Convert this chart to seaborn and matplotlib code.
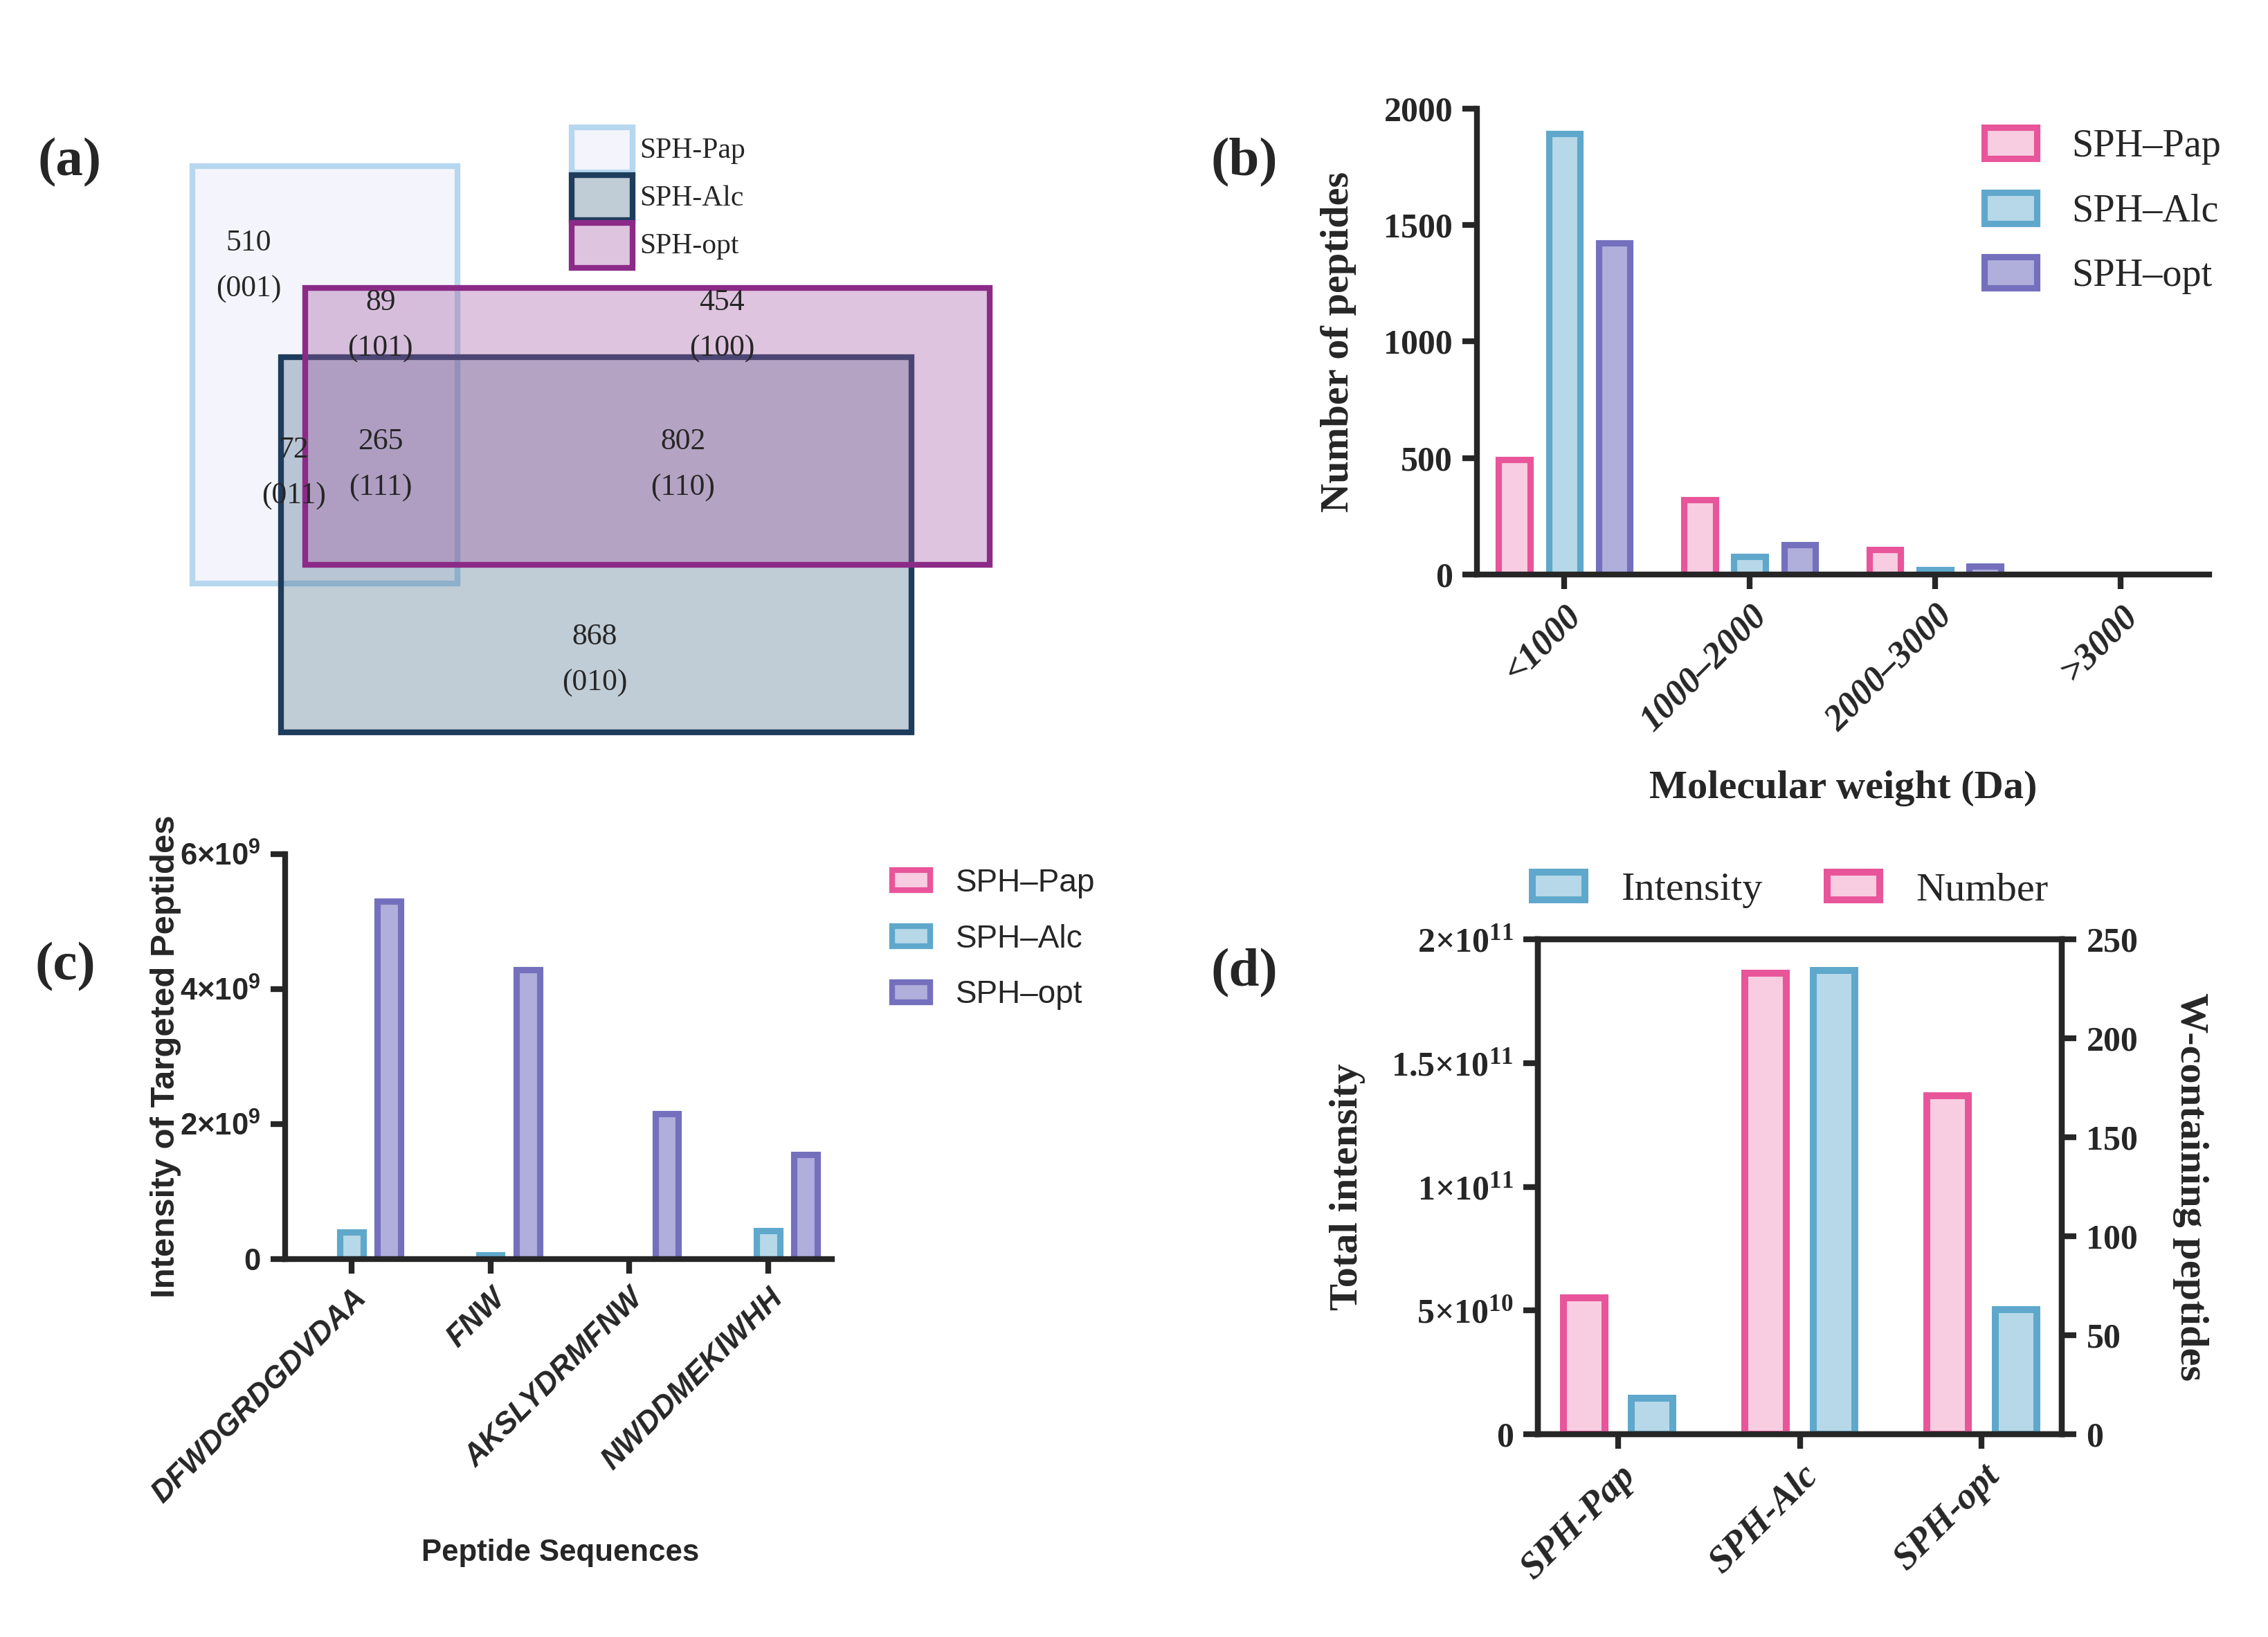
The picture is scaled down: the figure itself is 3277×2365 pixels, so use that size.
import numpy as np
import pandas as pd
import matplotlib
matplotlib.use("Agg")
import matplotlib.pyplot as plt
import seaborn as sns
from matplotlib.patches import Rectangle, Patch

# ---- data ----
samples = ["SPH–Pap", "SPH–Alc", "SPH–opt"]
mw_bins = ["<1000", "1000–2000", "2000–3000", ">3000"]
mw_pap = [493, 320, 108, 0]
mw_alc = [1892, 79, 21, 0]
mw_opt = [1424, 127, 37, 0]

peptides = ["DFWDGRDGDVDAA", "FNW", "AKSLYDRMFNW", "NWDDMEKIWHH"]
pep_pap = [0, 0, 0, 0]
pep_alc = [0.40e9, 0.06e9, 0, 0.42e9]
pep_opt = [5.30e9, 4.29e9, 2.15e9, 1.55e9]

w_samples = ["SPH-Pap", "SPH-Alc", "SPH-opt"]
w_intensity = [1.45e10, 1.875e11, 5.04e10]
w_number = [69, 233, 171]

venn_sets = ["SPH-Pap", "SPH-Alc", "SPH-opt"]
venn_counts = [510, 89, 454, 72, 265, 802, 868]
venn_codes = ["(001)", "(101)", "(100)", "(011)", "(111)", "(110)", "(010)"]

# colours
fills = {"SPH–Pap": "#f8cde1", "SPH–Alc": "#b7d8e8", "SPH–opt": "#b0aedb"}
edges = {"SPH–Pap": "#e8559a", "SPH–Alc": "#5fa8cc", "SPH–opt": "#7470bd"}

SERIF = ["Liberation Serif", "DejaVu Serif"]
SANS = ["Liberation Sans", "DejaVu Sans"]

sns.set_style("ticks")
plt.rcParams["font.family"] = SERIF
plt.rcParams["axes.linewidth"] = 2
plt.rcParams["mathtext.fontset"] = "custom"
plt.rcParams["mathtext.rm"] = "Liberation Serif"
plt.rcParams["mathtext.bf"] = "Liberation Serif:bold"
plt.rcParams["mathtext.sf"] = "Liberation Sans:bold"

fig = plt.figure(figsize=(3278 / 300, 2365 / 300), dpi=300)
W, H = 1568.0, 1131.0


def box(l, t, r, b):
    return [l / W, 1 - b / H, (r - l) / W, (b - t) / H]


def style_bars(ax, ecs, lw=2.2):
    for cont, ec in zip(ax.containers, ecs):
        for bar in cont:
            bar.set_edgecolor(ec)
            bar.set_linewidth(lw)
            if bar.get_height() == 0:
                bar.set_visible(False)


def fmt_sci(v, cmd):
    if v == 0:
        return "0"
    e = int(np.floor(np.log10(v)))
    m = "%g" % (v / 10 ** e)
    return r"$\%s{%s{\times}10^{%d}}$" % (cmd, m, e)


# ---- (a) venn-style rectangles ----
ax_a = fig.add_axes(box(100, 60, 720, 530))
ax_a.set_xlim(100, 720)
ax_a.set_ylim(530, 60)
ax_a.axis("off")

rect_layout = {
    "SPH-Pap": ((133, 115, 316, 403), (0.957, 0.961, 0.988, 1.0), "#b6d7ee"),
    "SPH-Alc": ((194, 247, 630, 506), (0.19, 0.35, 0.48, 0.30), "#1e3d5c"),
    "SPH-opt": ((211, 199, 684, 390), (0.64, 0.34, 0.63, 0.35), "#8c2a88"),
}
for name in venn_sets:
    (x0, y0, x1, y1), fc, ec = rect_layout[name]
    ax_a.add_patch(Rectangle((x0, y0), x1 - x0, y1 - y0, facecolor=fc,
                             edgecolor=ec, linewidth=2.0))

text_pos = [(172, 168), (263, 209), (499, 209), (203, 311), (263, 305), (472, 305), (411, 440)]
for (x, y), n, c in zip(text_pos, venn_counts, venn_codes):
    ax_a.text(x, y, str(n), ha="center", va="center", fontsize=10.5)
    ax_a.text(x, y + 32, c, ha="center", va="center", fontsize=10.5)

for i, name in enumerate(venn_sets):
    _, fc, ec = rect_layout[name]
    y0 = 88 + i * 33
    ax_a.add_patch(Rectangle((395, y0), 42, 31, facecolor=fc, edgecolor=ec, linewidth=2.0))
    ax_a.text(442, y0 + 16, name, ha="left", va="center", fontsize=10)

# ---- (b) molecular weight distribution ----
df_b = pd.DataFrame({
    "bin": mw_bins * 3,
    "count": mw_pap + mw_alc + mw_opt,
    "sample": np.repeat(samples, len(mw_bins)),
})
ax_b = fig.add_axes(box(1021, 75, 1527, 397))
sns.barplot(data=df_b, x="bin", y="count", hue="sample", order=mw_bins,
            hue_order=samples, palette=fills, saturation=1, width=0.81,
            gap=0.37, errorbar=None, legend=False, ax=ax_b)
style_bars(ax_b, [edges[s] for s in samples])
ax_b.set_xlim(-0.47, 3.48)
ax_b.set_ylim(0, 2000)
ax_b.set_yticks([0, 500, 1000, 1500, 2000])
sns.despine(ax=ax_b)
ax_b.tick_params(width=2, length=5, labelsize=12)
for lab in ax_b.get_yticklabels():
    lab.set_fontweight("bold")
ax_b.set_xticks(range(len(mw_bins)))
ax_b.set_xticklabels(mw_bins, rotation=45, ha="right", rotation_mode="anchor",
                     fontweight="bold", fontstyle="italic", fontsize=12.5)
ax_b.set_xlabel("Molecular weight (Da)", fontsize=14, fontweight="bold")
ax_b.set_ylabel("Number of peptides", fontsize=14, fontweight="bold")
ax_b.xaxis.set_label_coords(0.5, -0.42)
ax_b.yaxis.set_label_coords(-0.165, 0.5)
h_b = [Patch(facecolor=fills[s], edgecolor=edges[s], linewidth=2.2, label=s) for s in samples]
ax_b.legend(handles=h_b, loc="upper left", bbox_to_anchor=(1347 / W, 1 - 64 / H),
            bbox_transform=fig.transFigure, frameon=False, fontsize=13.5,
            handlelength=1.35, handleheight=0.85, labelspacing=0.7, handletextpad=0.9)

# ---- (c) targeted peptides ----
df_c = pd.DataFrame({
    "pep": peptides * 3,
    "val": pep_pap + pep_alc + pep_opt,
    "sample": np.repeat(samples, len(peptides)),
})
ax_c = fig.add_axes(box(197, 590, 575, 870))
sns.barplot(data=df_c, x="pep", y="val", hue="sample", order=peptides,
            hue_order=samples, palette=fills, saturation=1, width=0.81,
            gap=0.38, errorbar=None, legend=False, ax=ax_c)
style_bars(ax_c, [edges[s] for s in samples])
ax_c.set_xlim(-0.48, 3.46)
ax_c.set_ylim(0, 6e9)
c_ticks = [0, 2e9, 4e9, 6e9]
ax_c.set_yticks(c_ticks)
ax_c.set_yticklabels([fmt_sci(v, "mathsf") for v in c_ticks], family=SANS,
                     fontweight="bold", fontsize=10.5)
sns.despine(ax=ax_c)
ax_c.tick_params(width=2, length=5)
ax_c.set_xticks(range(len(peptides)))
ax_c.set_xticklabels(peptides, rotation=45, ha="right", rotation_mode="anchor",
                     family=SANS, fontweight="bold", fontstyle="italic", fontsize=10.5)
ax_c.set_xlabel("Peptide Sequences", family=SANS, fontweight="bold", fontsize=10.5)
ax_c.set_ylabel("Intensity of Targeted Peptides", family=SANS, fontweight="bold", fontsize=11.8)
ax_c.xaxis.set_label_coords(0.503, -0.69)
ax_c.yaxis.set_label_coords(-0.19, 0.5)
h_c = [Patch(facecolor=fills[s], edgecolor=edges[s], linewidth=2.0, label=s) for s in samples]
ax_c.legend(handles=h_c, loc="upper left", bbox_to_anchor=(597 / W, 1 - 580 / H),
            bbox_transform=fig.transFigure, frameon=False, prop={"family": SANS, "size": 11},
            handlelength=1.2, handleheight=0.6, labelspacing=0.8, handletextpad=0.8)

# ---- (d) W-containing peptides ----
metrics = ["Number", "Intensity"]
df_d = pd.DataFrame({
    "sample": w_samples * 2,
    "value": list(w_number) + list(w_intensity),
    "metric": np.repeat(metrics, len(w_samples)),
})
d_fill = {"Number": fills["SPH–Pap"], "Intensity": fills["SPH–Alc"]}
d_edge = {"Number": edges["SPH–Pap"], "Intensity": edges["SPH–Alc"]}

ax_d = fig.add_axes(box(1063, 649, 1425, 991))
ax_d2 = ax_d.twinx()
sns.barplot(data=df_d[df_d.metric == "Intensity"], x="sample", y="value", hue="metric",
            order=w_samples, hue_order=metrics, palette=d_fill, saturation=1, dodge=True,
            width=0.75, gap=0.39, errorbar=None, legend=False, ax=ax_d)
sns.barplot(data=df_d[df_d.metric == "Number"], x="sample", y="value", hue="metric",
            order=w_samples, hue_order=metrics, palette=d_fill, saturation=1, dodge=True,
            width=0.75, gap=0.39, errorbar=None, legend=False, ax=ax_d2)
for a, m in ((ax_d, "Intensity"), (ax_d2, "Number")):
    for cont in a.containers:
        for bar in cont:
            bar.set_linewidth(2.4)
            bar.set_edgecolor(d_edge[m])
ax_d.set_xlim(-0.44, 2.44)
ax_d2.set_xlim(-0.44, 2.44)
ax_d.set_ylim(0, 2e11)
ax_d2.set_ylim(0, 250)
d_ticks = [0, 5e10, 1e11, 1.5e11, 2e11]
ax_d.set_yticks(d_ticks)
ax_d.set_yticklabels([fmt_sci(v, "mathbf") for v in d_ticks], fontsize=12)
ax_d2.set_yticks([0, 50, 100, 150, 200, 250])
for a in (ax_d, ax_d2):
    for s in a.spines.values():
        s.set_linewidth(2)
    a.tick_params(width=2, length=5, labelsize=12)
ax_d.tick_params(axis="x", top=False)
ax_d2.tick_params(axis="x", top=False, bottom=False)
for lab in ax_d.get_yticklabels() + ax_d2.get_yticklabels():
    lab.set_fontweight("bold")
ax_d.set_xticks(range(len(w_samples)))
ax_d.set_xticklabels(w_samples, rotation=45, ha="right", rotation_mode="anchor",
                     fontweight="bold", fontstyle="italic", fontsize=13)
ax_d.set_xlabel("")
ax_d2.set_xlabel("")
ax_d.set_ylabel("Total intensity", fontsize=14, fontweight="bold")
ax_d.yaxis.set_label_coords(-0.33, 0.5)
ax_d2.set_ylabel("W-containing peptides", fontsize=14, fontweight="bold", rotation=-90)
ax_d2.yaxis.set_label_coords(1.28, 0.5)
h_d = [Patch(facecolor=d_fill[m], edgecolor=d_edge[m], linewidth=2.4, label=m)
       for m in ["Intensity", "Number"]]
ax_d.legend(handles=h_d, loc="center left", bbox_to_anchor=(1034 / W, 1 - 615 / H),
            bbox_transform=fig.transFigure, frameon=False, fontsize=14, ncol=2,
            handlelength=1.3, handleheight=0.7, handletextpad=0.9, columnspacing=1.6)

# panel letters
for lbl, x, y in [("(a)", 48, 112), ("(b)", 860, 112), ("(c)", 45, 668), ("(d)", 860, 672)]:
    fig.text(x / W, 1 - y / H, lbl, ha="center", va="center", fontsize=19, fontweight="bold")

fig.savefig("out.png", dpi=300)
